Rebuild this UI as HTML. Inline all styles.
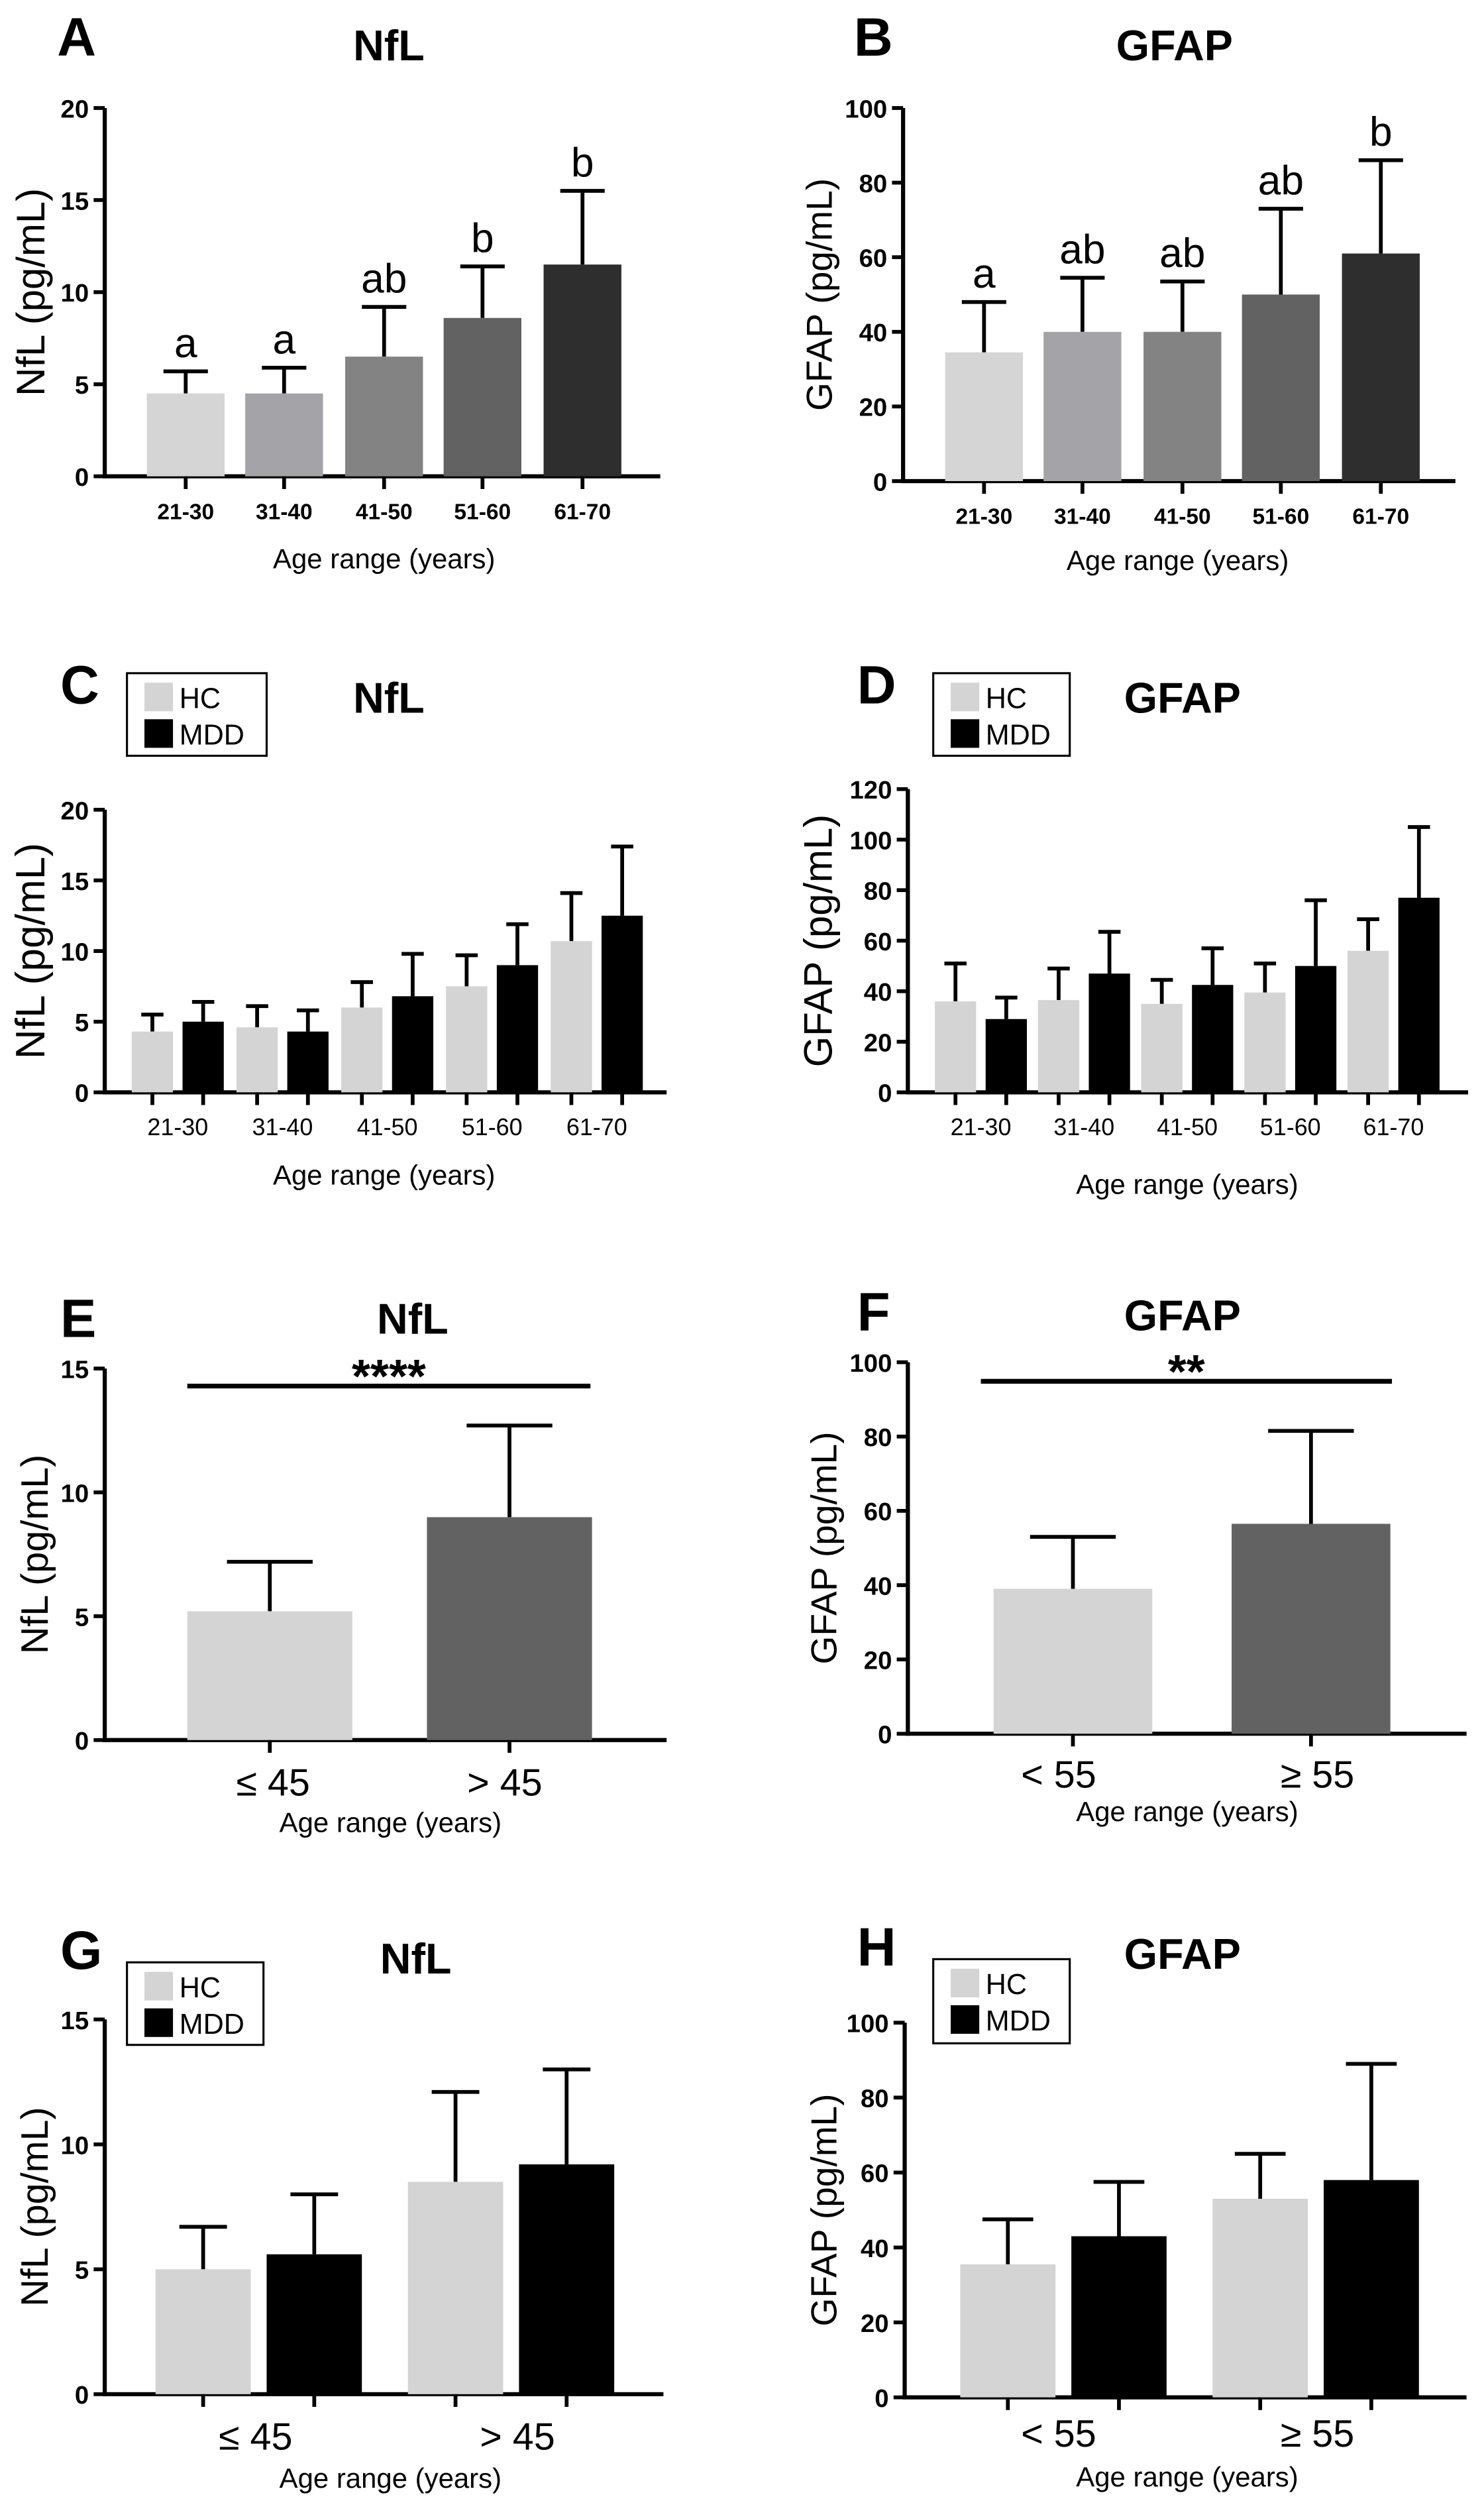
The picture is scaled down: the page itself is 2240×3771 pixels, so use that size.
<!DOCTYPE html>
<html><head><meta charset="utf-8"><style>
html,body{margin:0;padding:0;background:#fff}
svg{display:block}
text{font-family:"Liberation Sans",Arial,sans-serif}
</style></head><body>
<svg id="fig" width="2240" height="3771" viewBox="0 0 935 1574" xmlns="http://www.w3.org/2000/svg"></svg>
<script>
// ---- data ----
const ageCats = ["21-30","31-40","41-50","51-60","61-70"];
const aNflMean = [4.5,4.5,6.5,8.6,11.5];
const aNflErr  = [5.7,5.9,9.2,11.4,15.5];
const aNflSig  = ["a","a","ab","b","b"];
const bGfapMean = [34.5,40,40,50,61];
const bGfapErr  = [48,54.5,53.5,73,86];
const bGfapSig  = ["a","ab","ab","ab","b"];
const cHcMean = [4.3,4.6,6.0,7.5,10.7];
const cHcErr  = [5.5,6.1,7.8,9.7,14.1];
const cMddMean = [5.0,4.3,6.8,9.0,12.5];
const cMddErr  = [6.4,5.8,9.8,11.9,17.4];
const dHcMean = [36,36.5,35,39.5,56];
const dHcErr  = [51,49,44.5,51,68.5];
const dMddMean = [29,47,42.5,50,77];
const dMddErr  = [37.5,63.5,57,76,105];
const nflCats2 = ["\u2264 45","> 45"];
const gfapCats2 = ["< 55","\u2265 55"];
const eMean = [5.2,9.0]; const eErr = [7.2,12.7];
const fMean = [39,56.5]; const fErr = [53,81.5];
const gHcMean = [5.0,8.5]; const gHcErr = [6.7,12.1];
const gMddMean = [5.6,9.2]; const gMddErr = [8.0,13.0];
const hHcMean = [35.5,53]; const hHcErr = [47.5,65];
const hMddMean = [43,58]; const hMddErr = [57.5,89];
const nflTicks15 = [0,5,10,15];
const nflTicks20 = [0,5,10,15,20];
const gfapTicks100 = [0,20,40,60,80,100];
const gfapTicks120 = [0,20,40,60,80,100,120];

const svg = document.getElementById('fig');
const NS = 'http://www.w3.org/2000/svg';
function mk(tag, attrs, parent, txt){
  const e = document.createElementNS(NS, tag);
  for (const k in attrs) e.setAttribute(k, attrs[k]);
  if (txt !== undefined) e.textContent = txt;
  (parent||svg).appendChild(e);
  return e;
}

function panel(o){
  const g = mk('g',{});
  
  
  const ymax = o.ticks[o.ticks.length-1];
  const ys = v => o.y0 - (v/ymax)*(o.y0-o.yTop);
  const L = mk('text',{x:o.lx,y:o.ly,'font-size':34,'font-weight':'bold'},g,o.id);
  
  
  const T = mk('text',{x:o.tx,y:o.ty,'font-size':27,'font-weight':'bold','text-anchor':'middle'},g,o.title);
  
  
  const ya = mk('line',{x1:o.ax,y1:o.yTop,x2:o.ax,y2:o.y0+1.2,stroke:'#000','stroke-width':2.6},g);
  
  
  const xa = mk('line',{x1:o.ax-1.3,y1:o.y0,x2:o.xEnd,y2:o.y0,stroke:'#000','stroke-width':2.6},g);
  
  
  o.ticks.forEach(t=>{
    mk('line',{x1:o.ax-7,y1:ys(t),x2:o.ax,y2:ys(t),stroke:'#000','stroke-width':2.4},g);
    const tl = mk('text',{x:o.ax-10,y:ys(t)+6,'font-size':16,'font-weight':'bold','text-anchor':'end'},g,String(t));
    
    
  });
  const yt = mk('text',{x:0,y:0,'font-size':o.ytSize||22,'text-anchor':'middle',transform:`translate(${o.ytx},${(o.y0+o.yTop)/2}) rotate(-90)`},g,o.ytitle);
  
  
  o.series.forEach((s,si)=>{
    s.mean.forEach((m,i)=>{
      const cx = o.centers[i] + (s.off||0);
      const col = Array.isArray(s.color)? s.color[i] : s.color;
      const top = ys(m), et = ys(s.err[i]);
      const el = mk('line',{x1:cx,y1:top,x2:cx,y2:et,stroke:'#000','stroke-width':2.4},g);
      
      
      const cw = o.capW;
      mk('line',{x1:cx-cw/2,y1:et,x2:cx+cw/2,y2:et,stroke:'#000','stroke-width':2.4},g);
      const r = mk('rect',{x:cx-o.bw/2,y:top,width:o.bw,height:o.y0-top,fill:col},g);
      
      
      mk('line',{x1:cx,y1:o.y0,x2:cx,y2:o.y0+8,stroke:'#000','stroke-width':2.4},g);
      if (s.sig){
        const st = mk('text',{x:cx,y:et-9,'font-size':26,'text-anchor':'middle'},g,s.sig[i]);
        
        
      }
    });
  });
  o.cats.forEach((c,i)=>{
    const xl = mk('text',{x:o.labelX[i],y:o.xly,'font-size':o.xlSize,'font-weight':o.xlBold?'bold':'normal','text-anchor':'middle'},g,c);
    
    
  });
  const xt = mk('text',{x:o.xtX,y:o.xty,'font-size':17.5,'text-anchor':'middle'},g,'Age range (years)');
  
  
  if (o.sigLine){
    const sl = mk('line',{x1:o.sigLine[0],y1:o.sigLine[2],x2:o.sigLine[1],y2:o.sigLine[2],stroke:'#000','stroke-width':3},g);
    
    
    const ss = mk('text',{x:(o.sigLine[0]+o.sigLine[1])/2,y:o.sigLine[2]+4,'font-size':30,'font-weight':'bold','text-anchor':'middle'},g,o.sigText);
    
    
  }
  if (o.legend){
    const [lx,ly,lw,lh] = o.legend;
    const lg = mk('g',{},g);
    
    
    mk('rect',{x:lx,y:ly,width:lw,height:lh,fill:'#fff',stroke:'#000','stroke-width':1.3},lg);
    mk('rect',{x:lx+11,y:ly+6,width:18,height:18,fill:'#d4d4d4'},lg);
    const t1 = mk('text',{x:lx+33,y:ly+22,'font-size':18},lg,'HC');
    
    
    mk('rect',{x:lx+11,y:ly+29,width:18,height:18,fill:'#000'},lg);
    const t2 = mk('text',{x:lx+33,y:ly+45,'font-size':18},lg,'MDD');
    
    
  }
}
const grays5 = ['#d5d5d5','#a4a4a8','#838383','#626262','#2e2e2e'];
// A
const cA = [117,179,242,304,367];
panel({id:'A',title:'NfL',lx:36,ly:35,tx:245,ty:38,ax:66,yTop:68,y0:300,xEnd:416,ticks:nflTicks20,
  ytitle:'NfL  (pg/mL)',ytx:28,ytSize:25,centers:cA,bw:49,capW:28,
  series:[{name:'nfl',mean:aNflMean,err:aNflErr,color:grays5,sig:aNflSig}],
  cats:ageCats,labelX:cA,xly:327,xlSize:14,xlBold:true,xtX:242,xty:358});
// B
const cB = [620,682,745,807,870];
panel({id:'B',title:'GFAP',lx:538,ly:35,tx:740,ty:38,ax:569,yTop:68,y0:303,xEnd:917,ticks:gfapTicks100,
  ytitle:'GFAP  (pg/mL)',ytx:524,ytSize:23,centers:cB,bw:49,capW:28,
  series:[{name:'gfap',mean:bGfapMean,err:bGfapErr,color:grays5,sig:bGfapSig}],
  cats:ageCats,labelX:cB,xly:330,xlSize:14,xlBold:true,xtX:742,xty:359});
// C
const cC = [112,178,244,310,376];
panel({id:'C',title:'NfL',lx:38,ly:443,tx:245,ty:449,ax:66,yTop:510,y0:688,xEnd:420,ticks:nflTicks20,
  ytitle:'NfL  (pg/mL)',ytx:28,ytSize:26,centers:cC,bw:26,capW:14,
  series:[{name:'hc',mean:cHcMean,err:cHcErr,color:'#d4d4d4',off:-16},{name:'mdd',mean:cMddMean,err:cMddErr,color:'#000',off:16}],
  cats:ageCats,labelX:cC,xly:715,xlSize:15,xlBold:false,xtX:242,xty:746,legend:[80,424,88,52]});
// D
const cD = [618,683,748,813,878];
panel({id:'D',title:'GFAP',lx:540,ly:443,tx:745,ty:449,ax:572,yTop:497,y0:688,xEnd:925,ticks:gfapTicks120,
  ytitle:'GFAP  (pg/mL)',ytx:524,ytSize:25,centers:cD,bw:26,capW:14,
  series:[{name:'hc',mean:dHcMean,err:dHcErr,color:'#d4d4d4',off:-16},{name:'mdd',mean:dMddMean,err:dMddErr,color:'#000',off:16}],
  cats:ageCats,labelX:cD,xly:715,xlSize:15,xlBold:false,xtX:748,xty:752,legend:[588,424,86,52]});
// E
panel({id:'E',title:'NfL',lx:38,ly:842,tx:260,ty:840,ax:66,yTop:862,y0:1096,xEnd:420,ticks:nflTicks15,
  ytitle:'NfL  (pg/mL)',ytx:30,ytSize:24,centers:[170,321],bw:104,capW:54,
  series:[{name:'age',mean:eMean,err:eErr,color:['#d4d4d4','#626262']}],
  cats:nflCats2,labelX:[172,318],xly:1131,xlSize:24,xlBold:false,xtX:246,xty:1154,
  sigLine:[118,372,873],sigText:'****'});
// F
panel({id:'F',title:'GFAP',lx:540,ly:838,tx:745,ty:838,ax:572,yTop:858,y0:1092,xEnd:924,ticks:gfapTicks100,
  ytitle:'GFAP (pg/mL)',ytx:527,ytSize:23,centers:[676,826],bw:100,capW:54,
  series:[{name:'age',mean:fMean,err:fErr,color:['#d4d4d4','#626262']}],
  cats:gfapCats2,labelX:[667,830],xly:1126,xlSize:24,xlBold:false,xtX:748,xty:1147,
  sigLine:[618,877,870],sigText:'**'});
// G
const cG = [163,322];
panel({id:'G',title:'NfL',lx:38,ly:1240,tx:262,ty:1243,ax:66,yTop:1272,y0:1508,xEnd:418,ticks:nflTicks15,
  ytitle:'NfL  (pg/mL)',ytx:30,ytSize:24,centers:cG,bw:60,capW:30,
  series:[{name:'hc',mean:gHcMean,err:gHcErr,color:'#d4d4d4',off:-35},{name:'mdd',mean:gMddMean,err:gMddErr,color:'#000',off:35}],
  cats:nflCats2,labelX:[161,326],xly:1543,xlSize:24,xlBold:false,xtX:246,xty:1567,legend:[80,1236,86,52]});
// H
const cH = [670,829];
panel({id:'H',title:'GFAP',lx:540,ly:1238,tx:745,ty:1240,ax:570,yTop:1274,y0:1510,xEnd:924,ticks:gfapTicks100,
  ytitle:'GFAP (pg/mL)',ytx:527,ytSize:23,centers:cH,bw:60,capW:32,
  series:[{name:'hc',mean:hHcMean,err:hHcErr,color:'#d4d4d4',off:-35},{name:'mdd',mean:hMddMean,err:hMddErr,color:'#000',off:35}],
  cats:gfapCats2,labelX:[667,830],xly:1541,xlSize:24,xlBold:false,xtX:748,xty:1566,legend:[588,1234,86,53]});
</script>
</body></html>
